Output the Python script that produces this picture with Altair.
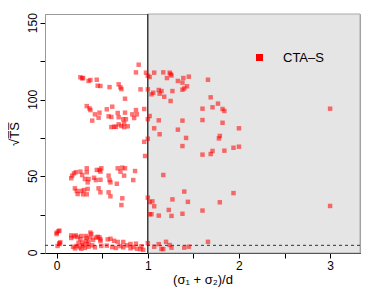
import altair as alt
import pandas as pd

# ---- data ----
xs_upper = [0.26, 0.28, 0.29, 0.35, 0.37, 0.44, 0.45, 0.48, 0.58, 0.68, 0.70, 0.71, 0.75,
            0.90, 0.87, 0.98, 1.00, 1.02, 0.92, 1.00,
            1.07, 1.17, 1.21, 1.24, 1.26, 1.25, 1.39, 1.45, 1.33, 1.38, 1.43, 1.40, 1.38,
            1.27, 1.12, 1.15, 1.04, 1.06, 1.13, 1.18, 1.25, 1.66, 1.69, 1.60, 1.71, 1.77,
            1.82, 1.84, 1.60, 1.82, 2.00, 3.00]
ys_upper = [114.7, 114.0, 114.2, 112.3, 112.9, 113.1, 109.2, 109.0, 108.3, 110.1, 108.1, 107.0, 100.7,
            122.9, 117.9, 117.7, 115.7, 114.9, 106.8, 106.8,
            117.7, 117.9, 114.2, 117.7, 115.9, 116.8, 114.2, 115.1, 112.3, 111.2, 108.8, 107.4, 106.6,
            105.7, 106.4, 105.7, 103.6, 104.6, 104.0, 102.0, 99.2, 113.1, 101.6, 94.2, 95.1, 97.5,
            94.0, 92.7, 86.8, 85.0, 81.4, 94.2]

xs_mid = [0.33, 0.36, 0.37, 0.42, 0.39, 0.47, 0.46, 0.55, 0.61, 0.57, 0.60, 0.67, 0.75, 0.68,
          0.73, 0.76, 0.74, 0.60, 0.63, 0.65, 0.68, 0.71, 0.74, 0.78, 0.83, 0.85, 0.87, 0.88,
          0.96, 0.96, 1.00, 0.97,
          1.02, 1.00, 1.12, 1.07, 1.13, 1.33, 1.38, 1.42, 1.38, 1.60, 1.69, 1.71, 1.84, 1.94,
          2.00, 1.78, 1.79]
ys_mid = [95.9, 94.4, 93.3, 90.5, 86.4, 91.6, 88.3, 93.8, 95.5, 89.2, 88.8, 91.4, 91.6, 88.6,
          87.3, 87.3, 84.7, 82.2, 82.4, 82.4, 84.0, 82.9, 82.2, 82.7, 90.5, 88.1, 93.3, 90.5,
          94.0, 72.6, 74.6, 63.3,
          89.4, 87.3, 86.6, 81.4, 77.5, 80.5, 86.4, 75.1, 69.8, 64.2, 64.6, 66.6, 66.8, 68.7,
          69.4, 74.8, 76.4]

xs_low = [0.16, 0.17, 0.19, 0.21, 0.26, 0.33, 0.33, 0.44, 0.47, 0.49, 0.48, 0.57, 0.58, 0.59,
          0.67, 0.72, 0.75, 0.70, 0.74, 0.86, 0.84, 0.66, 0.28, 0.31, 0.35, 0.41, 0.43, 0.48,
          0.34, 0.20, 0.23, 0.22, 0.27, 0.30, 0.29, 0.33, 0.34, 0.46, 0.48, 0.57, 0.59, 0.72,
          0.71,
          1.00, 1.02, 1.05, 1.07, 1.17, 1.02, 1.04, 1.12, 1.40, 1.44, 1.27, 1.94, 1.79, 3.00,
          1.23, 1.26, 1.38, 1.60]
ys_low = [48.8, 50.5, 52.0, 52.7, 53.1, 55.3, 52.7, 54.2, 54.2, 55.3, 53.1, 50.5, 47.6, 46.1,
          55.3, 55.7, 55.3, 53.1, 50.5, 53.5, 47.6, 45.2, 50.9, 48.3, 48.3, 49.1, 47.6, 47.8,
          46.1, 42.2, 38.5, 40.5, 40.5, 41.1, 38.3, 38.3, 41.8, 42.2, 39.6, 39.6, 37.0, 35.7,
          31.3,
          36.1, 33.2, 33.7, 30.5, 50.9, 25.3, 25.3, 24.4, 40.1, 33.4, 35.0, 39.1, 33.1, 30.7,
          28.1, 24.2, 25.6, 27.7]

xs_bottom = [0.02, 0.00, 0.03, 0.00, 0.03, 0.01, 0.04, 0.03,
             0.16, 0.16, 0.19, 0.21, 0.23, 0.27, 0.26, 0.32, 0.33, 0.38, 0.37, 0.37, 0.35, 0.45,
             0.43, 0.47, 0.48, 0.48, 0.56, 0.59, 0.63, 0.67, 0.73, 0.77, 0.81, 0.87, 0.93,
             0.18, 0.22, 0.25, 0.29, 0.31, 0.35, 0.39, 0.42, 0.49, 0.61, 0.65, 0.73, 0.81, 0.84,
             0.88, 0.92, 0.24, 0.28, 0.32, 0.20, 0.27, 0.33, 0.40, 0.55, 0.70, 0.95,
             1.00, 1.07, 1.12, 1.15, 1.17, 1.20, 1.24, 1.26, 1.40, 1.45, 1.66]
ys_bottom = [14.2, 12.4, 14.6, 13.3, 5.9, 4.6, 7.0, 6.3,
             11.5, 9.8, 10.8, 11.5, 10.4, 11.1, 9.1, 11.1, 9.8, 12.4, 13.3, 10.2, 7.2, 10.6,
             10.0, 10.2, 8.9, 7.8, 8.9, 9.3, 8.0, 7.2, 7.2, 5.0, 5.9, 6.1, 4.4,
             4.1, 4.6, 3.7, 5.0, 3.3, 4.1, 5.0, 3.7, 4.6, 3.9, 3.3, 3.7, 3.1, 3.9,
             2.8, 2.6, 6.7, 6.7, 8.0, 3.0, 2.8, 5.8, 8.5, 4.8, 4.5, 2.0,
             6.4, 4.1, 5.8, 2.6, 2.6, 7.3, 5.2, 3.5, 3.5, 4.1, 7.3]

series_name = "CTA\u2013S"
x_domain = [-0.128, 3.328]
y_domain = [0, 156]
x_ticks = [0, 0.5, 1, 1.5, 2, 2.5, 3]
y_ticks = [0, 25, 50, 75, 100, 125, 150]
y_labels = [0, 50, 100, 150]
shade_from = 1.0
threshold = 5.0

xs = xs_upper + xs_mid + xs_low + xs_bottom
ys = ys_upper + ys_mid + ys_low + ys_bottom
df = pd.DataFrame({"x": xs, "y": ys, "s": [series_name] * len(xs)})

xsc = alt.Scale(domain=x_domain, nice=False, zero=False)
ysc = alt.Scale(domain=y_domain, nice=False, zero=False)

x_axis = alt.Axis(values=x_ticks,
                  labelExpr="datum.value % 1 == 0 ? format(datum.value, 'd') : ''",
                  title="(\u03c3\u2081 + \u03c3\u2082)/d",
                  titleY=26, titleBaseline="middle",
                  titleFontWeight="normal", titleFontSize=13,
                  grid=False, domainColor="#000000", tickColor="#000000",
                  tickSize=5, labelPadding=2)
y_axis = alt.Axis(values=y_ticks, labels=False,
                  title="\u221aT\u0305S\u0305",
                  titleX=-31, titleY=119.5, titleAngle=270,
                  titleAlign="center", titleBaseline="middle",
                  titleFontWeight="normal", titleFontSize=13,
                  grid=False, domainColor="#999999", tickColor="#000000",
                  tickSize=5)

shade = alt.Chart(pd.DataFrame({"x": [shade_from], "x2": [x_domain[1]],
                                "y": [y_domain[0]], "y2": [y_domain[1]]})).mark_rect(
    color="#e5e5e5", stroke="#aaaaaa", strokeWidth=1
).encode(
    x=alt.X("x:Q", scale=xsc, axis=x_axis),
    x2="x2:Q",
    y=alt.Y("y:Q", scale=ysc, axis=y_axis),
    y2="y2:Q",
)

# rotated y tick labels (R style, reading upward)
ylab = alt.Chart(pd.DataFrame({"v": y_labels})).mark_text(
    angle=270, align="center", baseline="bottom", fontSize=12,
    font="Liberation Sans", color="#000000"
).encode(
    y=alt.Y("v:Q", scale=ysc, axis=y_axis),
    x=alt.value(-5),
    text=alt.Text("v:Q", format="d"),
)

vline = alt.Chart(pd.DataFrame({"x": [shade_from]})).mark_rule(
    color="#000000", strokeWidth=1
).encode(x=alt.X("x:Q", scale=xsc, axis=x_axis))

hline = alt.Chart(pd.DataFrame({"y": [threshold]})).mark_rule(
    color="#333333", strokeWidth=1, strokeDash=[3, 3]
).encode(y=alt.Y("y:Q", scale=ysc, axis=y_axis))

pts = alt.Chart(df).mark_point(
    shape="square", filled=True, size=20, opacity=0.55
).encode(
    x=alt.X("x:Q", scale=xsc, axis=x_axis),
    y=alt.Y("y:Q", scale=ysc, axis=y_axis),
    color=alt.Color("s:N", scale=alt.Scale(range=["#ff0000"]),
                    legend=alt.Legend(title=None, orient="none", legendX=208, legendY=37,
                                      symbolType="square", symbolSize=49,
                                      symbolOpacity=1, symbolStrokeWidth=0,
                                      labelFontSize=13, labelOffset=17,
                                      labelFont="Liberation Sans", labelColor="#000000",
                                      padding=0)),
)

chart = alt.layer(shade, hline, vline, pts, ylab).properties(
    width=315, height=239,
    autosize=alt.AutoSizeParams(type="none"),
    padding={"left": 37, "top": 6, "right": 6, "bottom": 36},
    background="#ffffff",
).configure_view(
    stroke="#999999", strokeWidth=1
).configure_axis(
    labelFont="Liberation Sans", titleFont="Liberation Sans",
    labelFontSize=12, labelColor="#000000", titleColor="#000000",
)

chart.save("out.html", embed_options={"renderer": "svg", "actions": False})
